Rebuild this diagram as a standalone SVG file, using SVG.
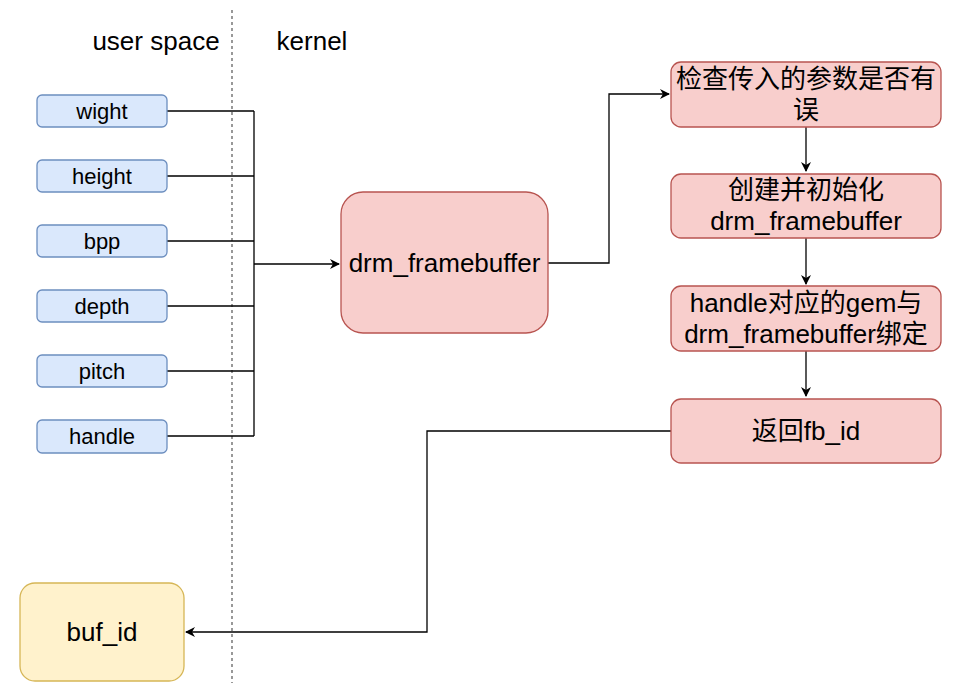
<svg xmlns="http://www.w3.org/2000/svg" width="955" height="685" viewBox="0 0 955 685">
<defs>
<marker id="arr" viewBox="0 0 10 10" refX="9" refY="5" markerWidth="10" markerHeight="10" markerUnits="userSpaceOnUse" orient="auto">
<path d="M0,0 L10,5 L0,10 L3,5 Z" fill="#000"/>
</marker>
<style>
text{font-family:"Liberation Sans","Noto Sans CJK SC",sans-serif;fill:#000;text-anchor:middle;}
.lbl{font-size:26px;}
.small{font-size:22px;}
.big{font-size:26px;}
.blue{fill:#dae8fc;stroke:#6c8ebf;stroke-width:1.3;}
.red{fill:#f8cecc;stroke:#b85450;stroke-width:1.3;}
.yellow{fill:#fff2cc;stroke:#d6b656;stroke-width:1.3;}
.ln{fill:none;stroke:#000;stroke-width:1.3;}
</style>
</defs>
<rect width="955" height="685" fill="#fff"/>
<line x1="232" y1="10" x2="232" y2="683" stroke="#555" stroke-width="1.2" stroke-dasharray="3,3"/>
<text class="lbl" x="156" y="50">user space</text>
<text class="lbl" x="312" y="50">kernel</text>
<g id="connectors">
<path class="ln" d="M167,111 H254 M167,176 H254 M167,241 H254 M167,306 H254 M167,371 H254 M167,436 H254 M254,111 V436"/>
<path class="ln" d="M254,264 H339" marker-end="url(#arr)"/>
<path class="ln" d="M548,263 H609 V94 H669" marker-end="url(#arr)"/>
<path class="ln" d="M806,127 V171" marker-end="url(#arr)"/>
<path class="ln" d="M806,238 V284" marker-end="url(#arr)"/>
<path class="ln" d="M806,351 V396" marker-end="url(#arr)"/>
<path class="ln" d="M671,431 H427 V632 H186" marker-end="url(#arr)"/>
</g>
<g id="wight"><rect class="blue" x="37" y="95" width="130" height="32" rx="5"/><text class="small" x="102" y="119">wight</text></g>
<g id="height"><rect class="blue" x="37" y="160" width="130" height="32" rx="5"/><text class="small" x="102" y="184">height</text></g>
<g id="bpp"><rect class="blue" x="37" y="225" width="130" height="32" rx="5"/><text class="small" x="102" y="249">bpp</text></g>
<g id="depth"><rect class="blue" x="37" y="290" width="130" height="32" rx="5"/><text class="small" x="102" y="314">depth</text></g>
<g id="pitch"><rect class="blue" x="37" y="355" width="130" height="32" rx="5"/><text class="small" x="102" y="379">pitch</text></g>
<g id="handle"><rect class="blue" x="37" y="420" width="130" height="33" rx="5"/><text class="small" x="102" y="444">handle</text></g>
<g id="drm_framebuffer"><rect class="red" x="341" y="192" width="207" height="141" rx="22"/><text class="big" x="444.5" y="272">drm_framebuffer</text></g>
<g id="check"><rect class="red" x="671" y="62" width="270" height="65" rx="10"/><text class="big" x="806" y="88">检查传入的参数是否有</text><text class="big" x="806" y="119">误</text></g>
<g id="create"><rect class="red" x="671" y="174" width="270" height="64" rx="10"/><text class="big" x="806" y="199">创建并初始化</text><text class="big" x="806" y="230">drm_framebuffer</text></g>
<g id="bind"><rect class="red" x="671" y="286" width="270" height="65" rx="10"/><text class="big" x="806" y="312">handle对应的gem与</text><text class="big" x="806" y="343">drm_framebuffer绑定</text></g>
<g id="return"><rect class="red" x="671" y="399" width="270" height="64" rx="10"/><text class="big" x="806" y="440">返回fb_id</text></g>
<g id="buf_id"><rect class="yellow" x="20" y="583" width="164" height="98" rx="15"/><text class="big" x="102" y="641">buf_id</text></g>
</svg>
